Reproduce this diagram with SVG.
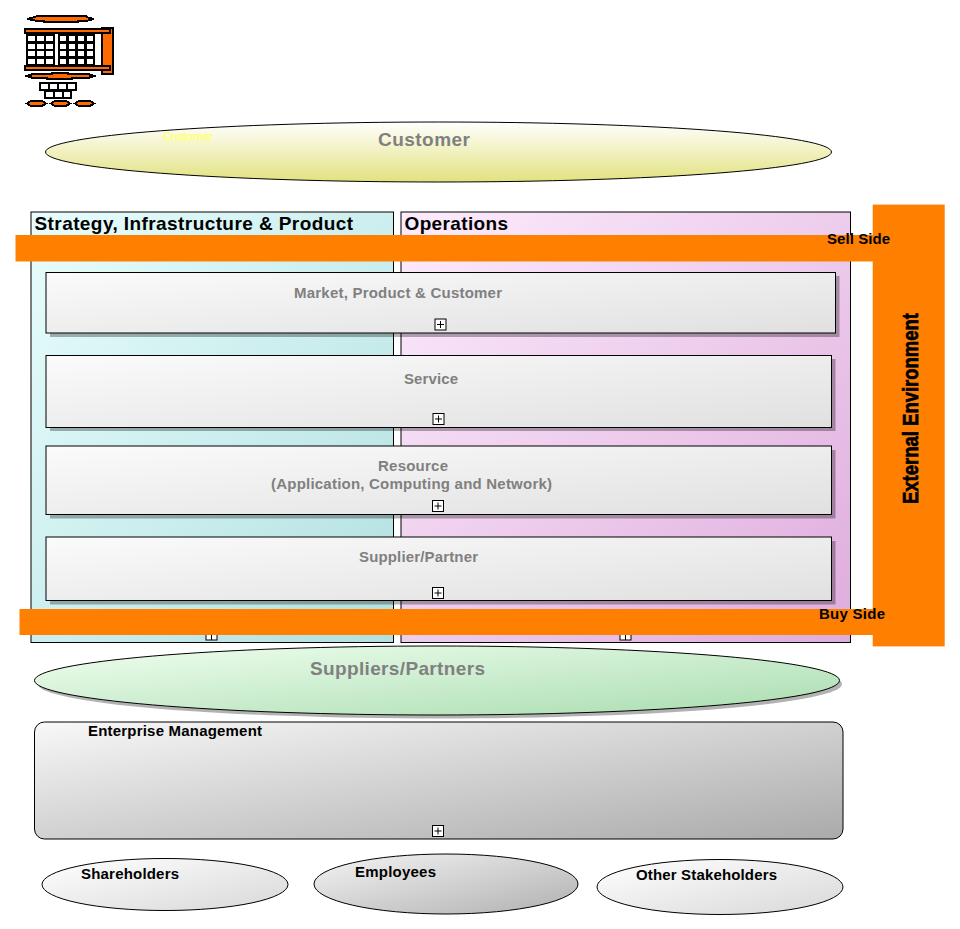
<svg xmlns="http://www.w3.org/2000/svg" width="960" height="929" viewBox="0 0 960 929">
<style>
text{font-family:"Liberation Sans",Arial,sans-serif;font-weight:bold}
.grey{fill:#808080;font-size:15px}
.big{fill:#808080;font-size:19px}
.blk{fill:#000;font-size:15px}
.head{fill:#000;font-size:19px}
.box{stroke:#000;stroke-width:1;fill:url(#gBox)}
.shadow{fill:#000;fill-opacity:.3}
.plus{fill:#fff;stroke:#000;stroke-width:1}
.pl{stroke:#000;stroke-width:1;fill:none}
.org{fill:#ff8000}
.ic{fill:#ff6a00;stroke:#000;stroke-width:2}
.iw{fill:#fff;stroke:#000;stroke-width:2}
.il{fill:none;stroke:#000;stroke-width:2}
</style>
<defs>
<linearGradient id="gBox" x1="0" y1="0" x2="1" y2="1"><stop offset="0" stop-color="#fbfbfb"/><stop offset="1" stop-color="#e0e0e0"/></linearGradient>
<linearGradient id="gCust" x1="0" y1="0" x2="0" y2="1"><stop offset="0" stop-color="#ffffff"/><stop offset="1" stop-color="#e2e27f"/></linearGradient>
<linearGradient id="gLeft" x1="0" y1="0" x2="1" y2="1"><stop offset="0" stop-color="#e8fdfd"/><stop offset="1" stop-color="#b2e0e0"/></linearGradient>
<linearGradient id="gRight" x1="0" y1="0" x2="1" y2="1"><stop offset="0" stop-color="#fdecfd"/><stop offset="1" stop-color="#deacdc"/></linearGradient>
<linearGradient id="gSup" x1="0" y1="0" x2="1" y2="1"><stop offset="0" stop-color="#f0fff0"/><stop offset="1" stop-color="#a8dcae"/></linearGradient>
<linearGradient id="gEnt" x1="0" y1="0" x2="1" y2="1"><stop offset="0" stop-color="#f8f8f8"/><stop offset="1" stop-color="#aaaaaa"/></linearGradient>
<linearGradient id="gOval" x1="0" y1="0" x2="1" y2="1"><stop offset="0" stop-color="#ffffff"/><stop offset="1" stop-color="#d8d8d8"/></linearGradient>
<linearGradient id="gEmp" x1="0" y1="0" x2="1" y2="1"><stop offset="0" stop-color="#f4f4f4"/><stop offset="1" stop-color="#b0b0b0"/></linearGradient>
</defs>

<g id="icon" shape-rendering="crispEdges">
<path class="ic" d="M27 19L35 17L37 16L86 16L88 17.500L94 19L88 20.500L78 20.500L78 22L44 22L44 20.500L35 20.500Z"/>
<rect class="ic" x="102" y="28" width="11" height="46"/>
<rect class="ic" x="25" y="29" width="85" height="4"/>
<rect x="26" y="33" width="76" height="33" fill="#000"/>
<g fill="#fff">
<rect x="28" y="36" width="6.500" height="5"/><rect x="37" y="36" width="7" height="5"/><rect x="46" y="36" width="7" height="5"/><rect x="60" y="36" width="6" height="5"/><rect x="69" y="36" width="6" height="5"/><rect x="78" y="36" width="6" height="5"/><rect x="87" y="36" width="6" height="5"/>
<rect x="28" y="44" width="6.500" height="5"/><rect x="37" y="44" width="7" height="5"/><rect x="46" y="44" width="7" height="5"/><rect x="60" y="44" width="6" height="5"/><rect x="69" y="44" width="6" height="5"/><rect x="78" y="44" width="6" height="5"/><rect x="87" y="44" width="6" height="5"/>
<rect x="28" y="51" width="6.500" height="5"/><rect x="37" y="51" width="7" height="5"/><rect x="46" y="51" width="7" height="5"/><rect x="60" y="51" width="6" height="5"/><rect x="69" y="51" width="6" height="5"/><rect x="78" y="51" width="6" height="5"/><rect x="87" y="51" width="6" height="5"/>
<rect x="28" y="59" width="6.500" height="5"/><rect x="37" y="59" width="7" height="5"/><rect x="46" y="59" width="7" height="5"/><rect x="60" y="59" width="6" height="5"/><rect x="69" y="59" width="6" height="5"/><rect x="78" y="59" width="6" height="5"/><rect x="87" y="59" width="6" height="5"/>
<rect x="55" y="34" width="3" height="31"/><rect x="95" y="34" width="6" height="31"/>
</g>
<rect class="ic" x="25" y="66" width="85" height="4"/>
<path class="ic" d="M27 76L33 74L52 74L52 73L68 73L68 74L88 74L94 76L88 78L72 78L72 79L47 79L47 78L33 78Z"/>
<rect class="iw" x="40" y="83" width="36" height="7"/>
<path class="il" d="M49 83v7M58 83v7M67 83v7"/>
<rect class="iw" x="45" y="91" width="26" height="7"/>
<path class="il" d="M54 91v7M63 91v7"/>
<path class="ic" d="M27 103.500L31 101L42 101L46 103.500L42 106L31 106Z"/>
<path class="ic" d="M51 103.500L55 101L66 101L70 103.500L66 106L55 106Z"/>
<path class="ic" d="M75 103.500L79 101L90 101L94 103.500L90 106L79 106Z"/>
</g>

<g id="customer">
<ellipse cx="438.500" cy="152" rx="393" ry="30" fill="url(#gCust)" stroke="#000" stroke-width="1"/>
<text x="163" y="141" font-size="12" style="font-size:12px" fill="#ffff80" textLength="50">Customer</text>
<text x="378" y="146" class="big" textLength="92">Customer</text>
</g>

<g id="strategy">
<rect x="31" y="212" width="362.500" height="430.500" fill="url(#gLeft)" stroke="#000"/>
<text x="34.500" y="229.500" class="head" textLength="318.500">Strategy, Infrastructure &amp; Product</text>
<rect class="plus" x="206" y="630" width="11" height="10"/>
<path class="pl" d="M211.500 630v10"/>
</g>
<g id="operations">
<rect x="401" y="212" width="449.500" height="430.500" fill="url(#gRight)" stroke="#000"/>
<text x="404.500" y="229.500" class="head" textLength="103.500">Operations</text>
<rect class="plus" x="620" y="630" width="11" height="10"/>
<path class="pl" d="M625.500 630v10"/>
</g>

<g id="market">
<rect class="shadow" x="50" y="276" width="789.500" height="61"/>
<rect class="box" x="46" y="272.500" width="789.500" height="60.500"/>
<text x="294" y="297.500" class="grey" textLength="208">Market, Product &amp; Customer</text>
<rect class="plus" x="435" y="319" width="11" height="11"/><path class="pl" d="M437 324.500h7M440.500 321v7"/>
</g>
<g id="service">
<rect class="shadow" x="50" y="359" width="785.500" height="72"/>
<rect class="box" x="46" y="355.500" width="785.500" height="72"/>
<text x="404" y="384" class="grey" textLength="54">Service</text>
<rect class="plus" x="433" y="413.500" width="11" height="11"/><path class="pl" d="M435 419h7M438.500 415.500v7"/>
</g>
<g id="resource">
<rect class="shadow" x="50" y="450" width="785.500" height="68.500"/>
<rect class="box" x="46" y="446" width="785.500" height="68.500"/>
<text x="378" y="471" class="grey" textLength="70">Resource</text>
<text x="271" y="488.500" class="grey" textLength="281">(Application, Computing and Network)</text>
<rect class="plus" x="432.500" y="500.500" width="11" height="11"/><path class="pl" d="M434.500 506h7M438 502.500v7"/>
</g>
<g id="supplier">
<rect class="shadow" x="50" y="541" width="785.500" height="63.500"/>
<rect class="box" x="46" y="537" width="785.500" height="63.500"/>
<text x="359" y="561.500" class="grey" textLength="119">Supplier/Partner</text>
<rect class="plus" x="432.500" y="587.500" width="11" height="11"/><path class="pl" d="M434.500 593h7M438 589.500v7"/>
</g>

<g id="external">
<rect class="org" x="15.500" y="235" width="860" height="26.500"/>
<rect class="org" x="19.500" y="609" width="856" height="26"/>
<rect class="org" x="872.700" y="204.600" width="72" height="441.800"/>
<text x="827" y="244" class="blk" textLength="63">Sell Side</text>
<text x="819" y="618.500" class="blk" textLength="66">Buy Side</text>
<text transform="translate(917.500 504) rotate(-90)" x="0" y="0" font-size="22" style="font-size:22px;stroke:#000;stroke-width:.7" textLength="191" lengthAdjust="spacingAndGlyphs" fill="#000">External Environment</text>
</g>

<g id="suppliers">
<ellipse cx="440" cy="684" rx="402" ry="34.500" fill="#000" fill-opacity=".3"/>
<ellipse cx="437" cy="680.500" rx="402.500" ry="34.500" fill="url(#gSup)" stroke="#000"/>
<text x="310" y="675" class="big" textLength="175">Suppliers/Partners</text>
</g>

<g id="enterprise">
<rect x="34.500" y="722" width="808.500" height="117" rx="10" fill="url(#gEnt)" stroke="#000"/>
<text x="88" y="735.500" class="blk" textLength="174">Enterprise Management</text>
<rect class="plus" x="432.500" y="825.500" width="11" height="11"/><path class="pl" d="M434.500 831h7M438 827.500v7"/>
</g>

<g id="shareholders">
<ellipse cx="165" cy="884.500" rx="123" ry="26" fill="url(#gOval)" stroke="#000"/>
<text x="81" y="879" class="blk" textLength="98">Shareholders</text>
</g>
<g id="employees">
<ellipse cx="446" cy="884" rx="132" ry="30" fill="url(#gEmp)" stroke="#000"/>
<text x="355" y="876.500" class="blk" textLength="81">Employees</text>
</g>
<g id="stakeholders">
<ellipse cx="720" cy="887" rx="123" ry="27.500" fill="url(#gOval)" stroke="#000"/>
<text x="636" y="879.500" class="blk" textLength="141">Other Stakeholders</text>
</g>
</svg>
